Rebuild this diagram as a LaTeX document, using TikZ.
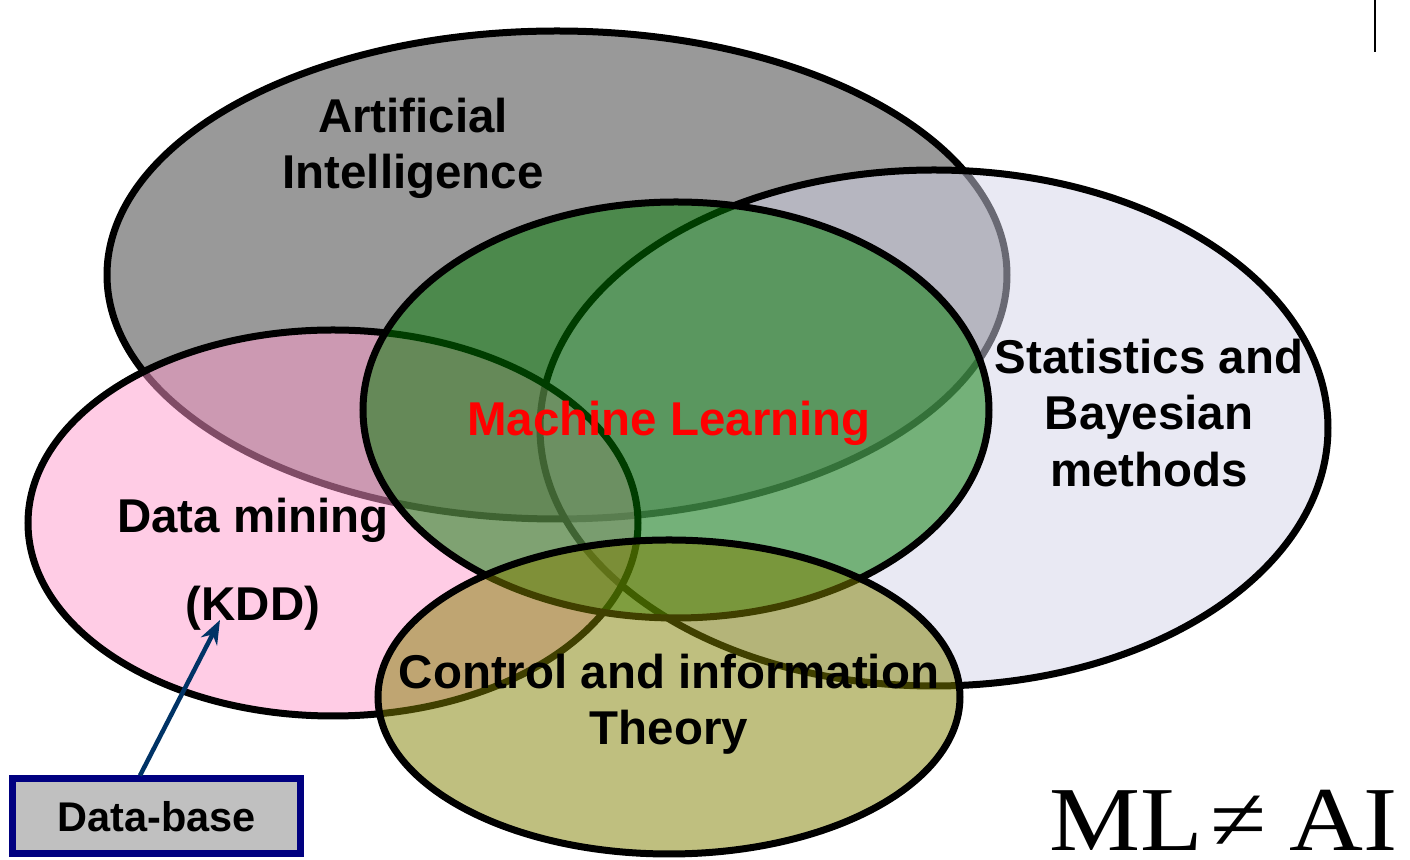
\documentclass[tikz,border=0pt]{standalone}
\usepackage{fontspec}
\setmainfont{Liberation Sans}
\newfontfamily\serifrm[FakeStretch=1.12]{Liberation Serif}
\usetikzlibrary{arrows.meta}

\definecolor{aigray}{RGB}{153,153,153}
\definecolor{statlav}{RGB}{211,211,231}
\definecolor{dmpink}{RGB}{255,153,204}
\definecolor{mlgreen}{RGB}{0,122,0}
\definecolor{ctolive}{RGB}{128,128,0}
\definecolor{dbnavy}{RGB}{0,0,128}
\definecolor{dbgray}{RGB}{192,192,192}
\definecolor{dbblue}{RGB}{0,51,102}

\begin{document}
\begin{tikzpicture}
[font=\fontsize{13.5}{16}\selectfont\bfseries, line width=2pt,
area/.style={draw=black, line width=0.07cm, fill opacity=0.5},
areatext/.style={align=center, inner sep=0pt},
dbbox/.style={rectangle, draw=dbnavy, fill=dbgray, line width=0.07cm, inner sep=0pt,
  minimum width=2.88cm, minimum height=0.75cm, font=\fontsize{11.8}{14}\selectfont\bfseries},
dbarrow/.style={draw=dbblue, line width=0.045cm, -{Stealth[length=2.4mm, width=1.8mm]}}]

\useasboundingbox (0,0) rectangle (14.10,8.60);

% areas, back to front
\draw[area, fill=aigray, fill opacity=1] (5.57,5.85) ellipse [x radius=4.50, y radius=2.44];
\draw[area, fill=statlav] (9.34,4.32) ellipse [x radius=3.94, y radius=2.58];
\draw[area, fill=dmpink] (3.33,3.37) ellipse [x radius=3.05, y radius=1.93];
\draw[area, fill=mlgreen] (6.76,4.50) ellipse [x radius=3.13, y radius=2.08];
\draw[area, fill=ctolive] (6.69,1.63) ellipse [x radius=2.91, y radius=1.57];

\node[areatext] (ai) at (4.13,7.12) {Artificial\\Intelligence};
\node[areatext] (stats) at (11.49,4.47) {Statistics and\\Bayesian\\methods};
\node[areatext, text=red] (ml) at (6.69,4.37) {Machine Learning};
\node[areatext] (dm) at (2.53,2.96) {Data mining\\[0.32cm](KDD)};
\node[areatext] (ct) at (6.69,1.555) {Control and information\\Theory};

\node[dbbox] (db) at (1.565,0.435) {Data-base};
\coordinate (kdd) at (2.20,2.40);
\draw[dbarrow] ([xshift=-1.65mm]db.north) -- (kdd);

\draw[line width=0.03cm] (13.75,8.60) -- (13.75,8.08);
\node[anchor=base west, inner sep=0pt, font=\serifrm\fontsize{26}{30}\selectfont] (neq) at (10.46,0.09) {ML\hspace{0.08em}≠\hspace{0.25em}AI};
\end{tikzpicture}
\end{document}
